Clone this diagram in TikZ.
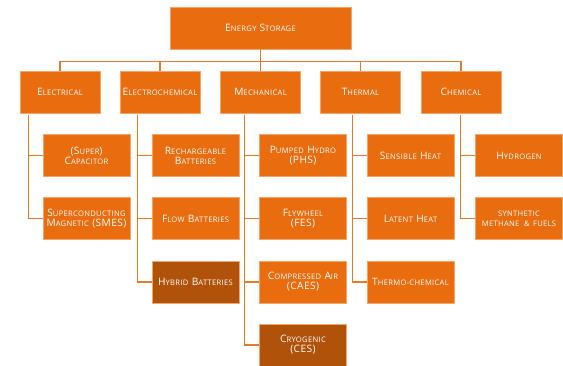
\documentclass[tikz,border=0pt]{standalone}
\usepackage{fontspec}
\setmainfont{Open Sans}[LetterSpace=4]
\definecolor{boxor}{HTML}{E96C0E}
\definecolor{boxdk}{HTML}{B0520A}
\definecolor{lineor}{HTML}{E57A2C}
\definecolor{edgeor}{HTML}{F4A66A}
\newcommand\Sm[1]{{\fontsize{7.6}{9}\selectfont #1}}
\tikzset{
  box/.style={rectangle, fill=boxor, draw=edgeor, line width=0.6pt, text=white,
    inner sep=0pt, align=center, font=\fontsize{10.2}{10.2}\selectfont},
  top/.style={box, minimum width=181pt, minimum height=42pt},
  cat/.style={box, minimum width=80pt, minimum height=42pt},
  leaf/.style={box, minimum width=87pt, minimum height=42pt, text width=87pt},
  dark/.style={fill=boxdk},
  conn/.style={draw=lineor, line width=1.3pt}
}
\begin{document}
\begin{tikzpicture}[x=1pt,y=-1pt]
\useasboundingbox (0,0) rectangle (563,365);
\node[top] (es) at (260.5,28) {E\Sm{NERGY} S\Sm{TORAGE}};
\node[cat] (el) at (60,92) {E\Sm{LECTRICAL}};
\node[cat] (ec) at (160,92) {E\Sm{LECTROCHEMICAL}};
\node[cat] (me) at (260.5,92) {M\Sm{ECHANICAL}};
\node[cat] (th) at (360.5,92) {T\Sm{HERMAL}};
\node[cat] (ch) at (461,92) {C\Sm{HEMICAL}};
% electrical
\node[leaf] (sc) at (86.5,155.5) {(S\Sm{UPER})\\[0pt]C\Sm{APACITOR}};
\node[leaf] (sm) at (86.5,218.5) {S\Sm{UPERCONDUCTING}\\[0pt]M\Sm{AGNETIC} (SMES)};
% electrochemical
\node[leaf] (rb) at (195.5,155.5) {R\Sm{ECHARGEABLE}\\[0pt]B\Sm{ATTERIES}};
\node[leaf] (fb) at (195.5,218.5) {F\Sm{LOW} B\Sm{ATTERIES}};
\node[leaf,dark] (hb) at (195.5,282) {H\Sm{YBRID} B\Sm{ATTERIES}};
% mechanical
\node[leaf] (ph) at (303,155.5) {P\Sm{UMPED} H\Sm{YDRO}\\[0pt](PHS)};
\node[leaf] (fw) at (303,218.5) {F\Sm{LYWHEEL}\\[0pt](FES)};
\node[leaf] (ca) at (303,282) {C\Sm{OMPRESSED} A\Sm{IR}\\[0pt](CAES)};
\node[leaf,dark] (cr) at (303,345) {C\Sm{RYOGENIC}\\[0pt](CES)};
% thermal
\node[leaf] (sh) at (410.5,155.5) {S\Sm{ENSIBLE} H\Sm{EAT}};
\node[leaf] (lh) at (410.5,218.5) {L\Sm{ATENT} H\Sm{EAT}};
\node[leaf] (tc) at (410.5,282) {T\Sm{HERMO-CHEMICAL}};
% chemical
\node[leaf] (hy) at (519,155.5) {H\Sm{YDROGEN}};
\node[leaf] (sy) at (519,218.5) {\Sm{SYNTHETIC}\\[0pt]\Sm{METHANE \,\& FUELS}};
% top connectors
\foreach \c in {el,ec,me,th,ch}
  \draw[conn] (es.south) -- ++(0,12) -| (\c.north);
% branch connectors
\foreach \p/\c in {el/sc,el/sm,ec/rb,ec/fb,ec/hb,me/ph,me/fw,me/ca,me/cr,th/sh,th/lh,th/tc,ch/hy,ch/sy}
  \draw[conn] ([yshift=-1.5pt]\p.south -| \c.west) ++(-14.5,0) |- (\c.west);
\end{tikzpicture}
\end{document}
